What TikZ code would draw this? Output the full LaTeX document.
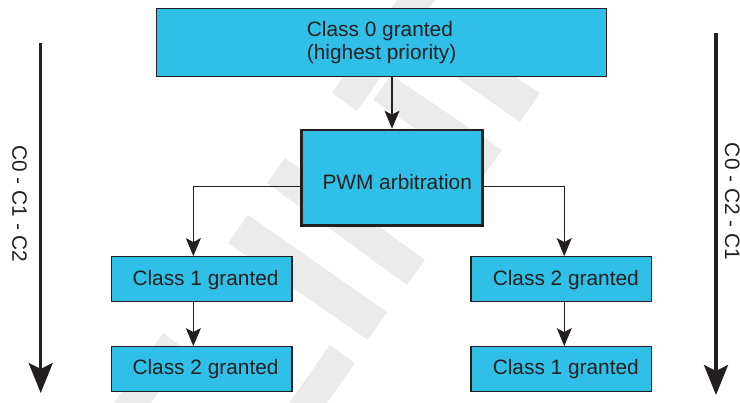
\documentclass[tikz,border=0pt]{standalone}
\usepackage{fontspec}
\setmainfont{Liberation Sans}
\usetikzlibrary{arrows.meta}
\definecolor{boxfill}{RGB}{48,192,231}
\definecolor{ink}{RGB}{35,31,32}
\definecolor{wmark}{RGB}{235,235,235}
\begin{document}
\begin{tikzpicture}[x=1pt,y=-1pt,
  box/.style={draw=ink, line width=1.2pt, fill=boxfill, inner sep=0pt},
  thickbox/.style={box, line width=2.6pt},
  txt/.style={text=ink, font=\fontsize{20.85}{22.5}\selectfont, inner sep=0pt, anchor=base west, align=left},
  sidetxt/.style={text=ink, font=\fontsize{20.85}{22.5}\selectfont, inner sep=0pt, anchor=base, rotate=-90},
  conn/.style={draw=ink, line width=1.1pt, -{Stealth[length=18pt,width=15pt,inset=4pt]}},
  big/.style={draw=ink, line width=3.3pt, -{Stealth[length=30pt,width=24pt,inset=6pt]}},
  wm/.style={fill=wmark, draw=none},
]
\useasboundingbox (0,0) rectangle (740,403);
% watermark stripes
\begin{scope}
\clip (0,0) rectangle (740,403);
\fill[wm] (248,215) -- (387,312) -- (368,340) -- (228,243) -- cycle;
\fill[wm] (285,158) -- (425,260) -- (407,285) -- (267,183) -- cycle;
\fill[wm] (391,75) -- (502,150) -- (484,175) -- (373,100) -- cycle;
\fill[wm] (458,41) -- (540,93) -- (520,122) -- (440,66) -- cycle;
\fill[wm] (332,93) -- (357,111) -- (442,-10) -- (404,-10) -- cycle;
\fill[wm] (163,333) -- (188,351) -- (144,413) -- (107,413) -- cycle;
\fill[wm] (330,345) -- (355,363) -- (320,413) -- (282,413) -- cycle;
\end{scope}
% boxes
\node[box, minimum width=449.8pt, minimum height=68.4pt] (c0) at (381.6,42.5) {};
\node[thickbox, minimum width=180.6pt, minimum height=95.7pt] (pwm) at (392,177.85) {};
\node[box, minimum width=180.3pt, minimum height=45pt] (l1) at (201.85,279.2) {};
\node[box, minimum width=180.3pt, minimum height=45pt] (l2) at (201.85,369.2) {};
\node[box, minimum width=180.5pt, minimum height=45pt] (r1) at (561.25,279.2) {};
\node[box, minimum width=180.5pt, minimum height=45pt] (r2) at (561.25,369.2) {};
% texts (base anchor of the two-line text is its last line)
\node[txt] (t0) at (306.7,59.5) {Class 0 granted\\(highest priority)};
\node[txt] (tp) at (322.3,190) {PWM arbitration};
\node[txt] (t1) at (132.3,285.7) {Class 1 granted};
\node[txt] (t2) at (132.3,375) {Class 2 granted};
\node[txt] (t3) at (492.6,285.7) {Class 2 granted};
\node[txt] (t4) at (492.6,375) {Class 1 granted};
% connectors
\draw[conn] (pwm.north |- c0.south) -- (pwm.north);
\draw[conn] ([yshift=-9pt]pwm.west) -| ([xshift=-8.5pt]l1.north);
\draw[conn] ([xshift=-8.5pt]l1.south) -- ([xshift=-8.5pt]l2.north);
\draw[conn] ([yshift=-9pt]pwm.east) -| ([xshift=3pt]r1.north);
\draw[conn] ([xshift=3pt]r1.south) -- ([xshift=3pt]r2.north);
% side arrows
\coordinate (la1) at (40.7,43.3);
\coordinate (la2) at (40.7,393);
\draw[big] (la1) -- (la2);
\node[sidetxt] (lt) at (12.5,204) {C0 - C1 - C2};
\coordinate (ra1) at (716,33.3);
\coordinate (ra2) at (716,395);
\draw[big] (ra1) -- (ra2);
\node[sidetxt] (rt) at (725,201.5) {C0 - C2 - C1};
\end{tikzpicture}
\end{document}
